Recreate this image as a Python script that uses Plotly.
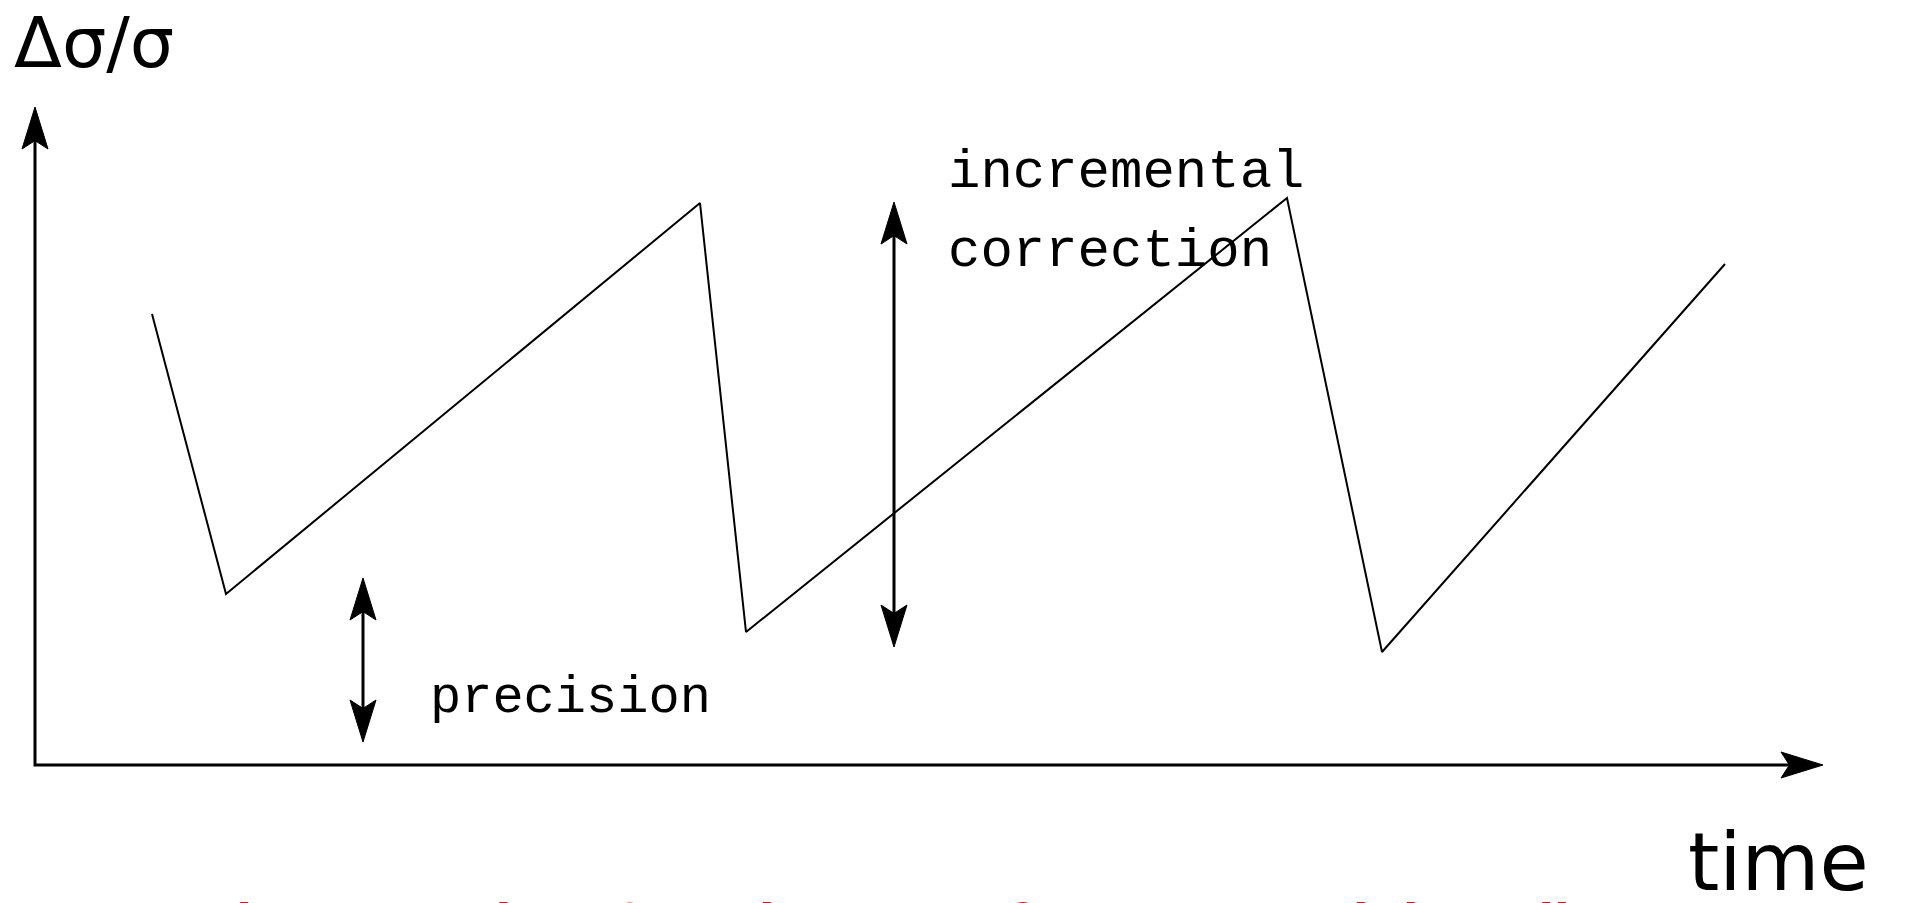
import plotly.graph_objects as go

# ---- data (arbitrary units: time vs. relative error) ----
time_pts = [1.17, 1.91, 6.65, 7.11, 12.52, 13.47, 16.90]
dsig_pts = [4.51, 1.71, 5.62, 1.33, 5.67, 1.13, 5.01]

# axis arrow extents (same units)
axis_x_end = 17.88
axis_y_end = 6.58
# double arrows
precision_t = 3.28
precision_span = [0.23, 1.87]
correction_t = 8.59
correction_span = [1.18, 5.63]

# ---- layout geometry: 1 unit = 100 px ----
W, H = 1907, 903
X0_PX, Y0_PX, UNIT = 35, 765, 100.0
x_range = [(0 - X0_PX) / UNIT, (W - X0_PX) / UNIT]
y_range = [(Y0_PX - H) / UNIT, (Y0_PX - 0) / UNIT]


def px_x(p):
    return (p - X0_PX) / UNIT


def px_y(p):
    return (Y0_PX - p) / UNIT


HEAD_L = 0.42
HEAD_W = 0.13


def head_path(tx, ty, dx, dy):
    bx, by = tx - dx * HEAD_L, ty - dy * HEAD_L
    nx, ny = -dy * HEAD_W, dx * HEAD_W
    mx, my = tx - dx * HEAD_L * 0.8, ty - dy * HEAD_L * 0.8
    return (f"M {tx} {ty} L {bx + nx} {by + ny} L {mx} {my} "
            f"L {bx - nx} {by - ny} Z")


fig = go.Figure()

# sawtooth
fig.add_trace(go.Scatter(x=time_pts, y=dsig_pts, mode="lines",
                         line=dict(color="black", width=2),
                         hoverinfo="skip", showlegend=False))

# axes lines
fig.add_trace(go.Scatter(x=[0, 0, axis_x_end - 0.1], y=[axis_y_end - 0.1, 0, 0],
                         mode="lines", line=dict(color="black", width=3),
                         hoverinfo="skip", showlegend=False))
# double arrows shafts
for t, span in [(precision_t, precision_span), (correction_t, correction_span)]:
    fig.add_trace(go.Scatter(x=[t, t], y=[span[0] + 0.1, span[1] - 0.1], mode="lines",
                             line=dict(color="black", width=3),
                             hoverinfo="skip", showlegend=False))

shapes = []
heads = [
    (0, axis_y_end, 0, 1),
    (axis_x_end, 0, 1, 0),
    (precision_t, precision_span[1], 0, 1),
    (precision_t, precision_span[0], 0, -1),
    (correction_t, correction_span[1], 0, 1),
    (correction_t, correction_span[0], 0, -1),
]
for tx, ty, dx, dy in heads:
    shapes.append(dict(type="path", path=head_path(tx, ty, dx, dy),
                       fillcolor="black", line=dict(color="black", width=1),
                       xref="x", yref="y"))

mono = "Liberation Mono"
annotations = [
    dict(text="Δσ/σ", x=px_x(12), y=px_y(0), xanchor="left", yanchor="top",
         font=dict(family="DejaVu Sans", size=70, color="black")),
    dict(text="incremental", x=px_x(946), y=px_y(172), xanchor="left", yanchor="middle",
         font=dict(family=mono, size=54, color="black")),
    dict(text="correction", x=px_x(946), y=px_y(251), xanchor="left", yanchor="middle",
         font=dict(family=mono, size=54, color="black")),
    dict(text="precision", x=px_x(428), y=px_y(698), xanchor="left", yanchor="middle",
         font=dict(family=mono, size=52, color="black")),
    dict(text="time", x=px_x(1686), y=px_y(862), xanchor="left", yanchor="middle",
         font=dict(family="DejaVu Sans", size=80, color="black")),
    dict(text="<b>several new paths of tracks can affect our model at all</b>",
         x=px_x(50), y=px_y(884), xanchor="left", yanchor="top",
         font=dict(family="Lato", size=64, color="#ff0000")),
]
for a in annotations:
    a.update(xref="x", yref="y", showarrow=False)

fig.update_layout(
    width=W, height=H,
    margin=dict(l=0, r=0, t=0, b=0),
    paper_bgcolor="white", plot_bgcolor="white",
    xaxis=dict(range=x_range, visible=False, fixedrange=True),
    yaxis=dict(range=y_range, visible=False, fixedrange=True),
    shapes=shapes, annotations=annotations,
    showlegend=False,
)
fig.write_html("out.html", config={"displayModeBar": False},
               post_script="document.body.style.margin='0';document.body.style.overflow='hidden';")
